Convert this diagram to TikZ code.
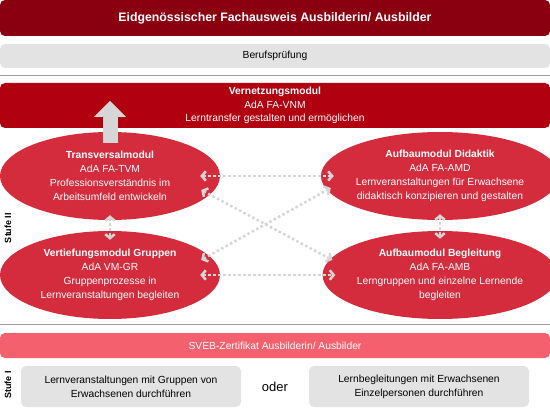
\documentclass[tikz,border=0pt]{standalone}
\usepackage{fontspec}
\setmainfont{Liberation Sans}
\usetikzlibrary{shapes.geometric,arrows.meta}

\definecolor{titlered}{HTML}{8A0011}
\definecolor{netred}{HTML}{B1000F}
\definecolor{modred}{HTML}{D42B3D}
\definecolor{svebred}{HTML}{F4606D}
\definecolor{boxgray}{HTML}{E3E3E3}
\definecolor{arrowgray}{HTML}{D6D6D6}
\definecolor{linegray}{HTML}{9E9E9E}

\begin{document}
\begin{tikzpicture}[
    x=1pt, y=-1pt,
    bar/.style={rectangle, rounded corners=5pt, inner sep=0pt,
        minimum width=550pt, align=center},
    module/.style={ellipse, fill=modred, text=white, inner sep=0pt,
        minimum width=220pt, minimum height=88pt, align=center,
        font=\fontsize{10.3}{14}\selectfont},
    graybox/.style={rectangle, rounded corners=5pt, fill=boxgray, inner sep=0pt,
        minimum width=220pt, minimum height=41pt, align=center,
        font=\fontsize{10.3}{14}\selectfont},
    stage/.style={rotate=90, font=\fontsize{9}{10}\selectfont\bfseries},
    link/.style={draw=arrowgray, line width=2.5pt, dash pattern=on 2.5pt off 2.5pt,
        {Straight Barb[length=4pt,width=9.5pt]}-{Straight Barb[length=4pt,width=9.5pt]}},
    sep/.style={draw=linegray, line width=1pt}
]
    \useasboundingbox (0,0) rectangle (550,412);
    % kopf
    \node[bar, fill=titlered, minimum height=36pt, text=white,
        font=\fontsize{12.3}{14}\selectfont\bfseries] (title) at (275,18)
        {Eidgenössischer Fachausweis Ausbilderin/ Ausbilder};
    \node[bar, fill=boxgray, minimum height=24pt,
        font=\fontsize{10.3}{14}\selectfont] (exam) at (275,56) {Berufsprüfung};
    \draw[sep] (0,75.5) -- (550,75.5);
    % stufe II
    \node[bar, fill=netred, minimum height=45pt, text=white,
        font=\fontsize{10.3}{13.5}\selectfont] (net) at (275,105.5)
        {\textbf{Vernetzungsmodul}\\AdA FA-VNM\\Lerntransfer gestalten und ermöglichen};
    \node[module] (trans) at (110,176)
        {\textbf{Transversalmodul}\\AdA FA-TVM\\Professionsverständnis im\\Arbeitsumfeld entwickeln};
    \node[module] (vert) at (110,275)
        {\textbf{Vertiefungsmodul Gruppen}\\AdA VM-GR\\Gruppenprozesse in\\Lernveranstaltungen begleiten};
    \node[module] (didak) at (440,176)
        {\textbf{Aufbaumodul Didaktik}\\AdA FA-AMD\\Lernveranstaltungen für Erwachsene\\didaktisch konzipieren und gestalten};
    \node[module] (begl) at (440,275)
        {\textbf{Aufbaumodul Begleitung}\\AdA FA-AMB\\Lerngruppen und einzelne Lernende\\begleiten};
    \draw[arrowgray, line width=15pt, -{Triangle[length=16pt,width=31pt]}]
        ([yshift=-11pt]trans.north) -- ([yshift=-18pt]net.north -| trans.north);
    \draw[link] ([xshift=-20pt]trans.east) -- ([xshift=13pt]didak.west);
    \draw[link] ([xshift=-20pt]vert.east) -- ([xshift=13pt]begl.west);
    \draw[link] ([xshift=-19pt,yshift=-14pt]trans.east) -- ([xshift=10pt,yshift=15pt]begl.west);
    \draw[link] ([xshift=-19pt,yshift=15pt]vert.east) -- ([xshift=10pt,yshift=-12pt]didak.west);
    \draw[link] ([yshift=5pt]trans.south) -- ([yshift=-9pt]vert.north);
    \draw[link] ([yshift=6pt]didak.south) -- ([yshift=-8pt]begl.north);
    \draw[sep] (0,324.5) -- (550,324.5);
    % stufe I
    \node[bar, fill=svebred, minimum height=25pt, text=white,
        font=\fontsize{10.3}{14}\selectfont] (sveb) at (275,345.5)
        {SVEB-Zertifikat Ausbilderin/ Ausbilder};
    \node[graybox] (groups) at (131,386.5)
        {Lernveranstaltungen mit Gruppen von\\Erwachsenen durchführen};
    \node[graybox] (single) at (419,386.5)
        {Lernbegleitungen mit Erwachsenen\\Einzelpersonen durchführen};
    \node[font=\fontsize{13}{15}\selectfont] (or) at (275,387) {oder};
    \node[stage] (stage2) at (8,228) {Stufe II};
    \node[stage] (stage1) at (8,385) {Stufe I};
\end{tikzpicture}
\end{document}
